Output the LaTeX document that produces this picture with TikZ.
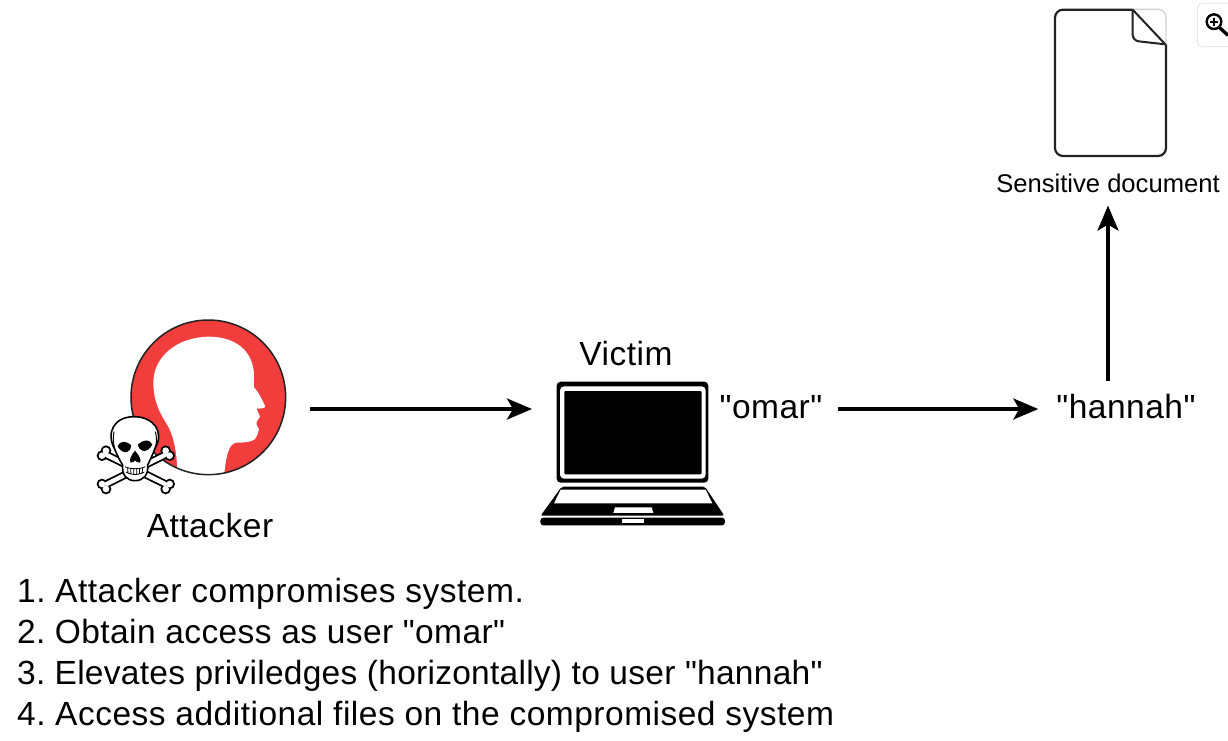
\documentclass[tikz,border=0pt]{standalone}
\usepackage{fontspec}
\newfontfamily\lsans[LetterSpace=1.5]{Liberation Sans}
\newfontfamily\lsansb[LetterSpace=1.2]{Liberation Sans}
\newfontfamily\lsansc[LetterSpace=0.8]{Liberation Sans}
\newfontfamily\lsanstight{Liberation Sans}
\usetikzlibrary{arrows.meta}
\definecolor{headred}{HTML}{F23D3D}
\definecolor{ink}{HTML}{222222}
\tikzset{
  flow/.style={-{Stealth[length=25pt,width=21pt,inset=6pt]},line width=3.6pt,black},
  lbl/.style={font=\lsans\fontsize{33.5}{36}\selectfont,text=black,inner sep=0pt},
  smalllbl/.style={font=\lsanstight\fontsize{25.6}{30}\selectfont,text=black,inner sep=0pt},
  step line/.style={lbl,anchor=base west},
  hitbox/.style={inner sep=0pt,outer sep=0pt,draw=none},
  zoomed/.style={x=0.3333pt,y=-0.3333pt},
  pics/bonecross/.style={code={
    \foreach \w/\c/\r in {8pt/black/16,4.4pt/white/10}{
      \draw[line width=\w,draw=\c,line cap=round] (50,135) -- (225,222) (225,135) -- (50,222);
      \fill[\c] (36,137) circle (\r) (48,122) circle (\r)
        (239,137) circle (\r) (227,122) circle (\r)
        (36,222) circle (\r) (48,237) circle (\r)
        (239,222) circle (\r) (227,237) circle (\r);
    }
  }},
}
\begin{document}
\begin{tikzpicture}[x=1pt,y=-1pt]
\useasboundingbox (0,0) rectangle (1228,740);
\fill[white] (0,0) rectangle (1228,740);
% layout nodes
\node[hitbox,minimum width=190pt,minimum height=178pt] (attackericon) at (191,409) {};
\node[hitbox,minimum width=184pt,minimum height=146pt] (victimicon) at (633,453) {};
\node[hitbox,minimum width=112pt,minimum height=149pt] (docicon) at (1111,83) {};
% head
\begin{scope}[shift={(80,310)},zoomed]
  \fill[headred] (385,262) circle (232);
  \begin{scope}
    \clip (385,262) circle (232);
    \fill[white] (292,500) .. controls (292,440) and (285,385) .. (262,345)
      .. controls (240,310) and (220,275) .. (220,215)
      .. controls (222,140) and (290,82) .. (385,80)
      .. controls (470,80) and (520,125) .. (522,195)
      -- (522,232) .. controls (535,245) and (550,275) .. (556,290)
      .. controls (552,296) and (540,296) .. (530,296)
      -- (540,320) -- (530,335) -- (530,345) -- (537,358) -- (532,375)
      .. controls (528,392) and (510,398) .. (470,398)
      .. controls (445,400) and (438,440) .. (432,500) -- cycle;
  \end{scope}
  \draw[ink,line width=1.5pt] (385,262) circle (232);
\end{scope}
% skull and bones
\begin{scope}[shift={(90,410)},zoomed]
  \pic {bonecross};
  \filldraw[fill=white,draw=black,line width=1.6pt]
    (98,165) .. controls (88,150) and (82,135) .. (75,120)
    .. controls (45,65) and (75,20) .. (132,20)
    .. controls (190,20) and (225,65) .. (195,115)
    .. controls (188,135) and (180,150) .. (173,165)
    .. controls (176,195) and (160,212) .. (135,212)
    .. controls (110,212) and (95,195) .. (98,165) -- cycle;
  \draw[black,line width=1pt] (75,120) .. controls (70,100) and (68,90) .. (72,65)
     (195,115) .. controls (200,100) and (202,85) .. (196,65);
  % eyes
  \fill[black] (83,110) .. controls (90,90) and (108,92) .. (124,106)
     .. controls (124,124) and (104,140) .. (83,110) -- cycle;
  \fill[black] (187,104) .. controls (180,86) and (160,88) .. (144,104)
     .. controls (146,124) and (170,134) .. (187,104) -- cycle;
  % nose
  \fill[black] (135,122) .. controls (124,135) and (116,150) .. (122,158)
     .. controls (130,160) and (132,153) .. (135,151)
     .. controls (138,153) and (142,160) .. (150,158)
     .. controls (156,150) and (146,135) .. (135,122) -- cycle;
  % teeth
  \draw[black,line width=0.8pt]
    (105,170) .. controls (120,178) and (150,178) .. (166,170)
    (108,186) .. controls (122,196) and (150,196) .. (163,186)
    (113,174) -- (114,190) (122,176) -- (123,193) (131,177) -- (131,195)
    (140,177) -- (140,195) (149,176) -- (148,193) (158,174) -- (156,190);
\end{scope}
% laptop
\begin{scope}[shift={(530,370)},zoomed]
  \fill[black,rounded corners=4pt] (80,35) rectangle (535,338);
  \fill[white,rounded corners=4pt] (90,49) rectangle (527,326);
  \fill[black,rounded corners=1pt] (103,63) rectangle (515,313);
  \fill[black,rounded corners=2pt] (95,350) -- (525,350) -- (583,437) -- (32,437) -- cycle;
  \fill[white] (92,359) -- (527,359) -- (547,400) -- (72,400) -- cycle;
  \fill[white] (255,412) -- (365,412) -- (370,429) -- (250,429) -- cycle;
  \fill[black,rounded corners=3pt] (31,443) rectangle (585,466);
  \fill[white] (275,448) rectangle (343,458);
\end{scope}
% document
\begin{scope}[shift={(1040,0)},zoomed]
  \fill[white] (45,28) rectangle (378,468);
  \draw[black!18,line width=1.4pt,rounded corners=8pt] (278,28) -- (378,28) -- (378,135);
  \draw[ink,line width=2.2pt,rounded corners=8pt] (278,29) -- (45,29) -- (45,468) -- (378,468) -- (378,133);
  \draw[ink,line width=2pt] (278,29) -- (376,133);
  \draw[ink,line width=2pt,rounded corners=6pt] (278,29) -- (278,122) -- (376,133);
  % magnifier button
  \draw[black!12,line width=0.8pt,rounded corners=5pt] (564,10) -- (472,10) -- (472,140) -- (564,140);
  \draw[black,line width=2.4pt] (522,65) circle (22);
  \draw[black,line width=3.4pt] (539,83) -- (564,106);
  \draw[black,line width=2pt] (510,65) -- (534,65) (522,53) -- (522,77);
\end{scope}
% labels
\node[lbl] (attackerlabel) at (210,526) {Attacker};
\node[lbl] (victimlabel) at (626,354) {Victim};
\node[lbl] (omar) at (771,407) {"omar"};
\node[lbl] (hannah) at (1126,407) {"hannah"};
\node[smalllbl] (doclabel) at (1108,183) {Sensitive document};
% arrows
\draw[flow,shorten <=24pt,shorten >=9pt] (attackericon.east) -- (attackericon.east -| victimicon.west);
\draw[flow,shorten <=15pt,shorten >=18pt] (omar.east |- attackericon.east) -- (hannah.west |- attackericon.east);
\draw[flow,shorten <=14pt,shorten >=13pt] (doclabel.south |- hannah.north) -- (doclabel.south);
% steps
\node[step line] (s1) at (17,602) {1.\hspace{-3.5pt} Attacker compromises system.};
\node[step line] (s2) at (17,643) {\lsansb\fontsize{33.5}{36}\selectfont 2.\hspace{-3.5pt} Obtain access as user "omar"};
\node[step line] (s3) at (17,684) {\lsansc\fontsize{33.5}{36}\selectfont 3.\hspace{-3.5pt} Elevates priviledges (horizontally) to user "hannah"};
\node[step line] (s4) at (17,725) {4.\hspace{-3.5pt} Access additional files on the compromised system};
\end{tikzpicture}
\end{document}
